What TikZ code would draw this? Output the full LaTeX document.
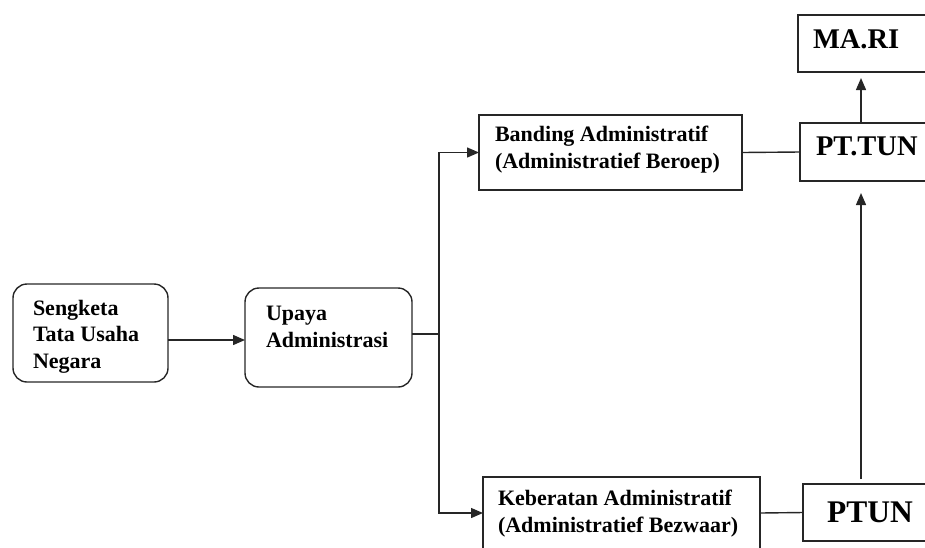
\documentclass[tikz,border=0pt]{standalone}
\usepackage{fontspec}
\setmainfont{Liberation Serif}
\usetikzlibrary{arrows.meta}
\begin{document}
\begin{tikzpicture}[x=1pt,y=-1pt,
  every node/.style={inner sep=0pt, outer sep=0pt},
  boxsq/.style={draw=black!85, line width=1.4pt, rectangle, anchor=north west},
  boxrd/.style={boxsq, rounded corners=14pt},
  txt/.style={anchor=base west, align=left, font=\fontsize{22}{26.5}\selectfont\bfseries},
  big/.style={anchor=base west, font=\fontsize{28.5}{32}\selectfont\bfseries},
  link/.style={draw=black!85, line width=1.4pt},
  arr/.style={link, -{Triangle[length=12pt,width=10pt]}}]
\useasboundingbox (0,0) rectangle (925,547);
\clip (0,0) rectangle (925,547);

% boxes
\node[boxrd, minimum width=155, minimum height=98] (sengketa) at (13,284) {};
\node[boxrd, minimum width=167, minimum height=99] (upaya) at (245,288) {};
\node[boxsq, minimum width=263, minimum height=75] (banding) at (479,115) {};
\node[boxsq, minimum width=277, minimum height=72] (keberatan) at (483,477) {};
\node[boxsq, minimum width=150, minimum height=57] (mari) at (798,15) {};
\node[boxsq, minimum width=150, minimum height=58] (pttun) at (800,123) {};
\node[boxsq, minimum width=150, minimum height=57] (ptun) at (803,484) {};

% labels (anchored at the baseline of their last line)
\node[txt] (tsengketa) at (33,368) {Sengketa\\Tata Usaha\\Negara};
\node[txt] (tupaya) at (266,347) {Upaya\\Administrasi};
\node[txt] (tbanding) at (495,168) {Banding Administratif\\(Administratief Beroep)};
\node[txt] (tkeberatan) at (498,532) {Keberatan Administratif\\(Administratief Bezwaar)};
\node[big] (tmari) at (813,48) {MA.RI};
\node[big] (tpttun) at (816,155) {PT.TUN};
\node[big, font=\fontsize{31.5}{34}\selectfont\bfseries] (tptun) at (827,522) {PTUN};

% connectors
\coordinate (split) at (439,334);
\coordinate (col) at (861,0);
\draw[arr] (sengketa.east |- {0,340}) -- (upaya.west |- {0,340});
\draw[link] (upaya.east |- split) -- (split);
\draw[arr] (split) |- (banding.west);
\draw[arr] (split) |- (keberatan.west);
\draw[link] (banding.east) -- (pttun.west);
\draw[link] (keberatan.east) -- (ptun.west);
\draw[arr, shorten >=6pt] (pttun.north -| col) -- (mari.south -| col);
\draw[arr, shorten >=12pt, shorten <=5pt] (ptun.north -| col) -- (pttun.south -| col);
\end{tikzpicture}
\end{document}
